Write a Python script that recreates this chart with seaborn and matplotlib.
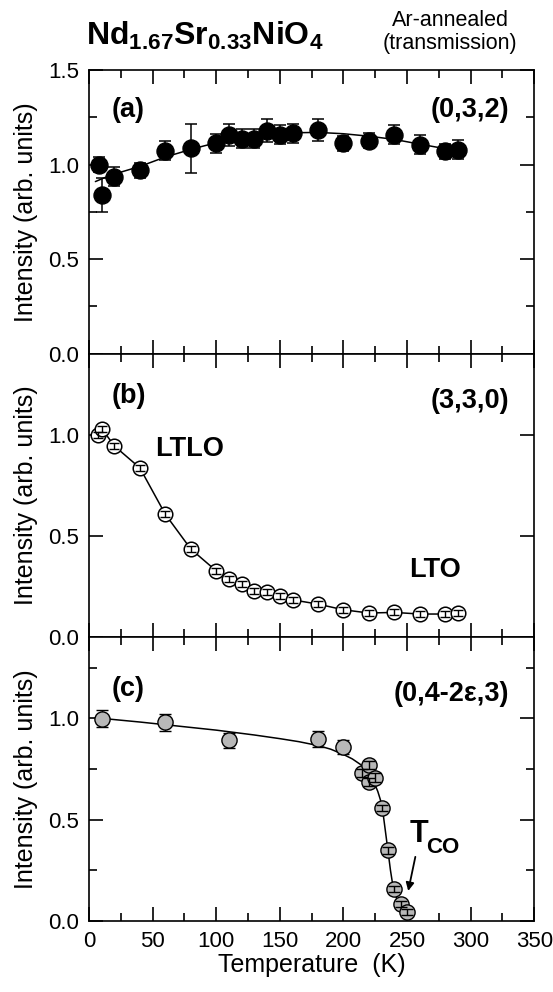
import matplotlib
matplotlib.use("Agg")
import matplotlib.pyplot as plt
import seaborn as sns
import pandas as pd
from matplotlib.ticker import MultipleLocator, FormatStrFormatter

# ---------------- data ----------------
temp_a = [8, 10, 20, 40, 60, 80, 100, 110, 120, 130, 140, 150, 160, 180, 200, 220, 240, 260, 280, 290]
int_a = [1.00, 0.84, 0.935, 0.97, 1.073, 1.087, 1.113, 1.157, 1.136, 1.136, 1.18, 1.157, 1.166, 1.183,
         1.113, 1.127, 1.157, 1.105, 1.07, 1.078]
err_a = [0.04, 0.09, 0.05, 0.04, 0.05, 0.13, 0.05, 0.06, 0.05, 0.05, 0.06, 0.05, 0.05, 0.06,
         0.04, 0.04, 0.05, 0.05, 0.04, 0.05]
fit_a_t = [5, 12, 20, 30, 40, 50, 60, 70, 80, 90, 100, 120, 140, 160, 180, 200, 220, 240, 260, 285]
fit_a_i = [0.91, 0.93, 0.95, 0.97, 0.99, 1.015, 1.04, 1.06, 1.08, 1.098, 1.115, 1.14, 1.158, 1.168,
           1.17, 1.163, 1.15, 1.133, 1.108, 1.078]

temp_b = [7, 10, 20, 40, 60, 80, 100, 110, 120, 130, 140, 150, 160, 180, 200, 220, 240, 260, 280, 290]
int_b = [1.00, 1.03, 0.944, 0.836, 0.607, 0.436, 0.328, 0.287, 0.263, 0.23, 0.223, 0.202, 0.185, 0.164,
         0.136, 0.12, 0.123, 0.115, 0.115, 0.12]
err_b = [0.015] * len(temp_b)

temp_c = [10, 60, 110, 180, 200, 215, 220, 220.5, 225, 230, 235, 240, 245, 250]
int_c = [0.999, 0.98, 0.892, 0.90, 0.86, 0.732, 0.772, 0.684, 0.708, 0.559, 0.348, 0.157, 0.085, 0.045]
err_c = [0.043, 0.04, 0.036, 0.04, 0.035, 0.02, 0.02, 0.02, 0.02, 0.015, 0.015, 0.015, 0.015, 0.015]
fit_c_t = [10, 40, 70, 100, 130, 150, 165, 180, 190, 200, 207, 214, 220, 224, 227, 229, 231, 233,
           235, 237, 239, 242, 246]
fit_c_i = [1.0, 0.982, 0.962, 0.942, 0.918, 0.9, 0.885, 0.866, 0.848, 0.822, 0.8, 0.77, 0.727, 0.685,
           0.64, 0.6, 0.54, 0.444, 0.348, 0.25, 0.17, 0.108, 0.06]

x_ticks = [0, 50, 100, 150, 200, 250, 300, 350]
panel_labels = ["(a)", "(b)", "(c)"]
reflections = ["(0,3,2)", "(3,3,0)", "(0,4-2ε,3)"]

# ---------------- style ----------------
sns.set_theme(style="ticks")
plt.rcParams["font.family"] = ["Liberation Sans", "DejaVu Sans"]
plt.rcParams["mathtext.fontset"] = "custom"
plt.rcParams["mathtext.rm"] = "Liberation Sans"
plt.rcParams["mathtext.bf"] = "Liberation Sans:bold"
plt.rcParams["axes.linewidth"] = 1.2
for key in ["text.color", "axes.labelcolor", "xtick.color", "ytick.color",
            "xtick.labelcolor", "ytick.labelcolor", "axes.edgecolor"]:
    plt.rcParams[key] = "black"

fig, axes = plt.subplots(3, 1, figsize=(5.53, 9.92), dpi=100, sharex=True)
fig.subplots_adjust(left=0.161, right=0.966, top=1 - 70 / 992, bottom=1 - 921 / 992, hspace=0)
ax_a, ax_b, ax_c = axes

# panel a
df_a = pd.DataFrame({"T": temp_a, "I": int_a})
ax_a.errorbar(temp_a, int_a, yerr=err_a, fmt="none", ecolor="black", elinewidth=1.1,
              capsize=4, capthick=1.1, zorder=2)
sns.lineplot(x=fit_a_t, y=fit_a_i, ax=ax_a, color="black", lw=1.1, zorder=1)
sns.scatterplot(data=df_a, x="T", y="I", ax=ax_a, s=150, color="black", edgecolor="black",
                linewidth=1, zorder=3)

# panel b
df_b = pd.DataFrame({"T": temp_b, "I": int_b})
sns.lineplot(data=df_b, x="T", y="I", ax=ax_b, color="black", lw=1.1, sort=False, zorder=1)
sns.scatterplot(data=df_b, x="T", y="I", ax=ax_b, s=110, color="white", edgecolor="black",
                linewidth=1.1, zorder=3)
ax_b.errorbar(temp_b, int_b, yerr=err_b, fmt="none", ecolor="black", elinewidth=1.0,
              capsize=3.5, capthick=1.0, zorder=4)

# panel c
df_c = pd.DataFrame({"T": temp_c, "I": int_c})
sns.lineplot(x=fit_c_t, y=fit_c_i, ax=ax_c, color="black", lw=1.1, zorder=1)
ax_c.errorbar(temp_c, int_c, yerr=err_c, fmt="none", ecolor="black", elinewidth=1.0,
              capsize=4, capthick=1.0, zorder=2)
sns.scatterplot(data=df_c, x="T", y="I", ax=ax_c, s=120, color="#b8b8b8", edgecolor="black",
                linewidth=1.0, zorder=3)
ax_c.errorbar(temp_c[5:], int_c[5:], yerr=err_c[5:], fmt="none", ecolor="black", elinewidth=1.0,
              capsize=4, capthick=1.0, zorder=4)

# axes formatting
ylims = [(0, 1.5), (0, 1.4), (0, 1.4)]
for i, ax in enumerate(axes):
    ax.set_xlim(0, 350)
    ax.set_ylim(*ylims[i])
    ax.xaxis.set_major_locator(MultipleLocator(50))
    ax.xaxis.set_minor_locator(MultipleLocator(25))
    ax.yaxis.set_major_locator(MultipleLocator(0.5))
    if i != 1:
        ax.yaxis.set_minor_locator(MultipleLocator(0.25))
    ax.tick_params(which="both", direction="in", top=True, right=True, width=1.2, colors="black")
    ax.tick_params(which="major", length=10, labelsize=16, pad=7)
    ax.tick_params(which="minor", length=5.5)
    ax.yaxis.set_major_formatter(FormatStrFormatter("%.1f"))
    ax.set_ylabel("Intensity (arb. units)", fontsize=18, color="black")
    ax.yaxis.set_label_coords(-0.115, 0.5)
    ax.set_xlabel("")

ax_c.set_xticks(x_ticks)
ax_c.set_xlabel("Temperature  (K)", fontsize=18, labelpad=1, color="black")
ax_a.tick_params(labelbottom=False)
ax_b.tick_params(labelbottom=False)

# annotations
lab_y = [1.29, 1.19, 1.147]
ref_y = [1.29, 1.165, 1.12]
for ax, lab, ref, ly, ry in zip(axes, panel_labels, reflections, lab_y, ref_y):
    ax.text(18, ly, lab, fontsize=19.5, fontweight="bold", ha="left", va="center", color="black")
    ax.text(330, ry, ref, fontsize=19.5, fontweight="bold", ha="right", va="center", color="black")

ax_b.text(52, 0.93, "LTLO", fontsize=19.5, fontweight="bold", ha="left", va="center")
ax_b.text(252, 0.33, "LTO", fontsize=19.5, fontweight="bold", ha="left", va="center")

ax_c.text(252, 0.43, "T", fontsize=22, fontweight="bold", ha="left", va="center")
ax_c.text(265, 0.365, "CO", fontsize=16, fontweight="bold", ha="left", va="center")
ax_c.annotate("", xy=(250.5, 0.135), xytext=(257, 0.33),
              arrowprops=dict(arrowstyle="-|>", color="black", lw=1.3, mutation_scale=12))

# titles
fig.text(205 / 553, 1 - 36 / 992, r"$\mathbf{Nd_{1.67}Sr_{0.33}NiO_4}$", fontsize=23,
         ha="center", va="center", color="black")
fig.text(450 / 553, 1 - 32 / 992, "Ar-annealed\n(transmission)", fontsize=15.5,
         ha="center", va="center", linespacing=1.1, color="black")

fig.savefig("out.png", dpi=100)
